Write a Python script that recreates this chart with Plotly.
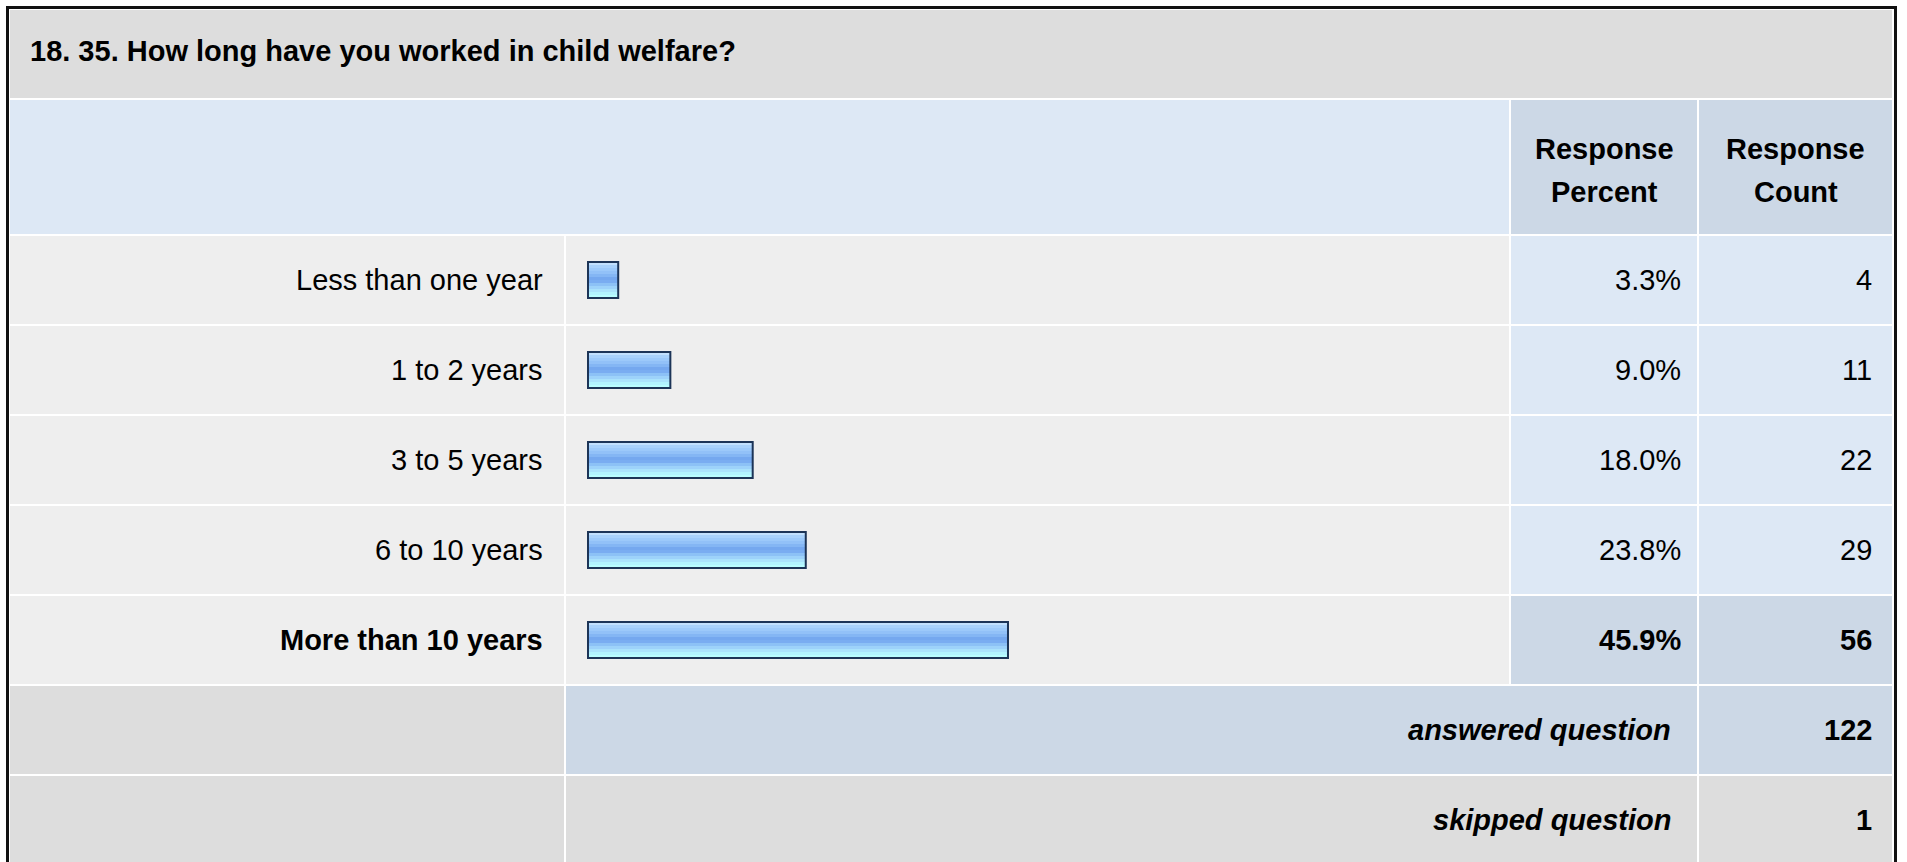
import plotly.graph_objects as go

# ---------------- data ----------------
title_text = "18. 35. How long have you worked in child welfare?"
categories = ["Less than one year", "1 to 2 years", "3 to 5 years", "6 to 10 years", "More than 10 years"]
percents = [3.3, 9.0, 18.0, 23.8, 45.9]
counts = [4, 11, 22, 29, 56]
answered_count = 122
skipped_count = 1
header_cols = [["Response", "Percent"], ["Response", "Count"]]

# ---------------- geometry / style ----------------
W, H = 1907, 862
FONT = "Liberation Sans, Arial, sans-serif"
FS = 29
C_GREY = "#DDDDDD"
C_ROW = "#EEEEEE"
C_LBLUE = "#DDE8F5"
C_DBLUE = "#CCD8E6"

ROW_TOP = 236
PITCH = 90
ROW_H = 88
X_LBL = (10, 564)
X_BAR = (566, 1509)
X_PCT = (1511, 1697)
X_CNT = (1699, 1892)

BAR_X0 = 588      # pixel of 0 %
PX_PER_PCT = 9.15
BAR_H_UNITS = 0.4

def px(x):
    return x / W

def py(y):
    return 1 - y / H

shapes = []
annotations = []

def cell(x0, x1, y0, y1, color):
    shapes.append(dict(type="rect", xref="paper", yref="paper",
                       x0=px(x0), x1=px(x1), y0=py(y1), y1=py(y0),
                       fillcolor=color, line=dict(width=0), layer="below"))

def text(x, y, s, xanchor="right", bold=False, italic=False):
    if italic:
        s = "<i>" + s + "</i>"
    if bold:
        s = "<b>" + s + "</b>"
    annotations.append(dict(xref="paper", yref="paper", x=px(x), y=py(y), text=s,
                            showarrow=False, xanchor=xanchor, yanchor="middle",
                            font=dict(family=FONT, size=FS, color="#000000")))

# title row
cell(10, 1892, 10, 98, C_GREY)
text(28, 51, title_text, xanchor="left", bold=True)

# header row
cell(10, X_BAR[1], 100, 234, C_LBLUE)
cell(X_PCT[0], X_PCT[1], 100, 234, C_DBLUE)
cell(X_CNT[0], X_CNT[1], 100, 234, C_DBLUE)
for (x0, x1), lines in zip([X_PCT, X_CNT], header_cols):
    xc = (x0 + x1) / 2
    text(xc, 149, lines[0], xanchor="center", bold=True)
    text(xc, 192, lines[1], xanchor="center", bold=True)

imax = counts.index(max(counts))

# data rows
for i, (cat, p, c) in enumerate(zip(categories, percents, counts)):
    y0 = ROW_TOP + PITCH * i
    y1 = y0 + ROW_H
    yc = (y0 + y1) / 2
    is_max = (i == imax)
    cell(X_LBL[0], X_LBL[1], y0, y1, C_ROW)
    cell(X_BAR[0], X_BAR[1], y0, y1, C_ROW)
    cell(X_PCT[0], X_PCT[1], y0, y1, C_DBLUE if is_max else C_LBLUE)
    cell(X_CNT[0], X_CNT[1], y0, y1, C_DBLUE if is_max else C_LBLUE)
    text(545, yc, cat, bold=is_max)
    text(1683, yc, f"{p:.1f}%", bold=is_max)
    text(1874, yc, str(c), bold=is_max)

# answered / skipped rows
ya0 = ROW_TOP + PITCH * len(categories)
cell(X_LBL[0], X_LBL[1], ya0, ya0 + ROW_H, C_GREY)
cell(X_BAR[0], X_PCT[1], ya0, ya0 + ROW_H, C_DBLUE)
cell(X_CNT[0], X_CNT[1], ya0, ya0 + ROW_H, C_DBLUE)
text(1673, ya0 + ROW_H / 2, "answered question", bold=True, italic=True)
text(1874, ya0 + ROW_H / 2, str(answered_count), bold=True)

ys0 = ya0 + PITCH
cell(X_LBL[0], X_LBL[1], ys0, ys0 + ROW_H + 6, C_GREY)
cell(X_BAR[0], X_PCT[1], ys0, ys0 + ROW_H + 6, C_GREY)
cell(X_CNT[0], X_CNT[1], ys0, ys0 + ROW_H + 6, C_GREY)
text(1673, ys0 + ROW_H / 2, "skipped question", bold=True, italic=True)
text(1874, ys0 + ROW_H / 2, str(skipped_count), bold=True)

# outer black frame
shapes.append(dict(type="rect", xref="paper", yref="paper",
                   x0=px(7.5), x1=px(1895.5), y0=py(875), y1=py(7.5),
                   line=dict(color="#111111", width=3), fillcolor="rgba(0,0,0,0)", layer="above"))

# ---------------- bars (gradient stripes) ----------------
stripe_colors = ["#c2e0fd", "#a8d1fb", "#9cc9fa", "#92c1f8", "#84b6f4", "#75a8ef",
                 "#79acf1", "#8cc1f6", "#9dd2fa", "#aae3fc", "#b2f3fe", "#b8fdff"]
n = len(stripe_colors)
sh = BAR_H_UNITS / n

fig = go.Figure()
for k, col in enumerate(stripe_colors):
    fig.add_trace(go.Bar(
        x=percents, y=categories, orientation="h", base=0,
        width=sh * 1.02, offset=-BAR_H_UNITS / 2 + k * sh,
        marker=dict(color=col, line=dict(width=0)),
        hoverinfo="skip", showlegend=False))
# outline
fig.add_trace(go.Bar(
    x=percents, y=categories, orientation="h", base=0,
    width=BAR_H_UNITS, offset=-BAR_H_UNITS / 2,
    marker=dict(color="rgba(0,0,0,0)", line=dict(color="#1c3457", width=2)),
    hovertemplate="%{y}: %{x}%<extra></extra>", showlegend=False))

# axis ranges mapping data to pixels
x_lo = -BAR_X0 / PX_PER_PCT
x_hi = (W - BAR_X0) / PX_PER_PCT
row1_center = ROW_TOP + ROW_H / 2
y_top = -row1_center / PITCH
y_bot = (H - row1_center) / PITCH

fig.update_layout(
    width=W, height=H,
    margin=dict(l=0, r=0, t=0, b=0),
    paper_bgcolor="white", plot_bgcolor="white",
    barmode="overlay",
    shapes=shapes, annotations=annotations,
    xaxis=dict(range=[x_lo, x_hi], visible=False, domain=[0, 1], fixedrange=True),
    yaxis=dict(type="category", categoryorder="array", categoryarray=categories,
               range=[y_bot, y_top], visible=False, domain=[0, 1], fixedrange=True),
    font=dict(family=FONT),
)

fig.write_html("out.html",
               config={"displayModeBar": False},
               post_script="document.body.style.margin='0';document.body.style.overflow='hidden';")
